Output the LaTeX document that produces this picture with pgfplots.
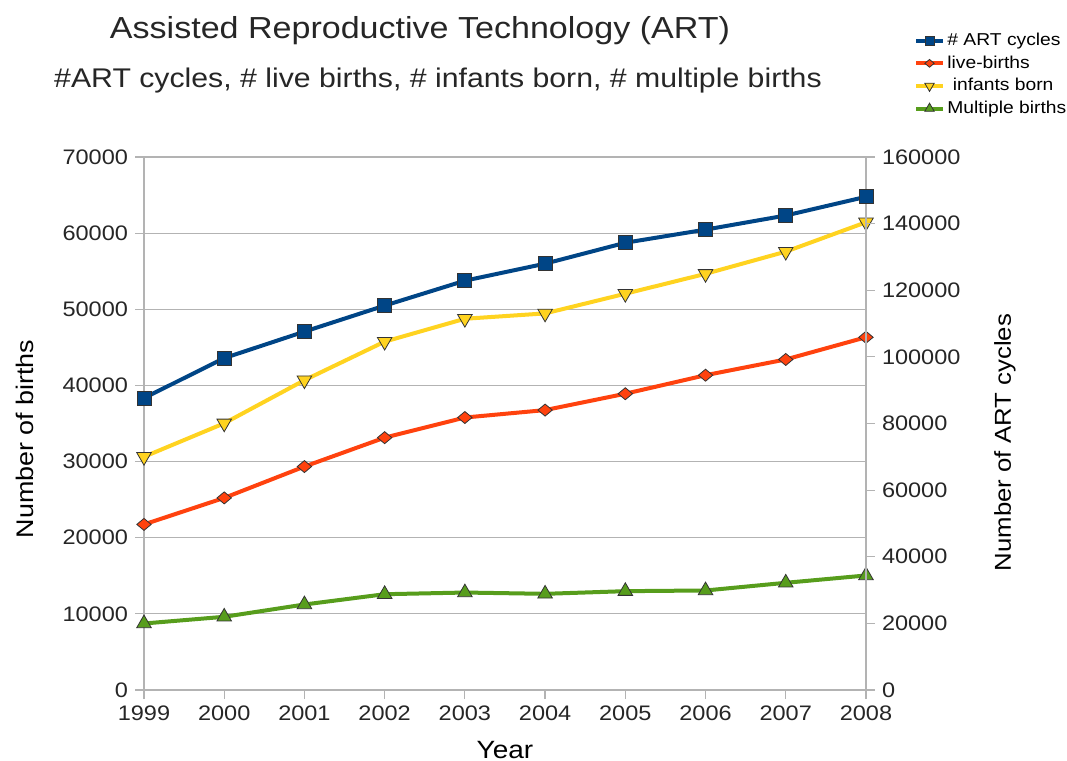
\documentclass[border=0pt]{standalone}
\usepackage{pgfplots}
\pgfplotsset{compat=1.18}
\usepackage{fontspec}
\setmainfont[FakeStretch=1.12]{Liberation Sans}
\definecolor{cblue}{HTML}{004586}
\definecolor{corange}{HTML}{FF420E}
\definecolor{cyellow}{HTML}{FFD320}
\definecolor{cgreen}{HTML}{579D1C}
\definecolor{cgrid}{HTML}{B3B3B3}
\pgfplotsset{
  myaxis/.style={
    scale only axis, width=361bp, height=266.5bp,
    at={(0,0)}, anchor=south west,
    xmin=1999, xmax=2008,
    /pgf/number format/fixed,
    /pgf/number format/precision=0,
    /pgf/number format/assume math mode=true,
    /pgf/number format/1000 sep={},
    tick label style={font=\fontsize{10.5bp}{12bp}\selectfont, text=black!85},
    axis line style={draw=cgrid, line width=0.6bp},
    major tick style={draw=cgrid, line width=0.6bp},
    tick align=outside, major tick length=4.5bp,
    scaled ticks=false,
  },
  legend image code/.code={
    \draw[mark repeat=2,mark phase=2,#1, every mark/.append style={scale=0.65}]
      plot coordinates {(0bp,0bp) (6.75bp,0bp) (13.5bp,0bp)};},
}
\begin{document}
\begin{tikzpicture}
\useasboundingbox (-72bp,-35.5bp) rectangle (461.5bp,345bp);
\begin{axis}[myaxis,
  ymin=0, ymax=70000, ytick={0,10000,...,70000},
  xtick={1999,2000,...,2008},
  xtick pos=bottom, ytick pos=left,
  ymajorgrids, major grid style={draw=cgrid, line width=0.6bp},
  xlabel={Year}, ylabel={Number of births},
  every axis x label/.style={at={([yshift=-30bp]axis description cs:0.5,0)}, anchor=center, font=\fontsize{12.5bp}{15bp}\selectfont},
  every axis y label/.style={at={([xshift=-59.5bp,yshift=-7.75bp]axis description cs:0,0.5)}, rotate=90, anchor=center, font=\fontsize{12bp}{14bp}\selectfont},
]
\addplot[corange, line width=2bp, mark=diamond*, mark size=3bp,
  mark options={solid, draw=black!80, line width=0.4bp, fill=corange, xscale=1.6}]
  coordinates {(1999,21746) (2000,25228) (2001,29344) (2002,33141) (2003,35785)
               (2004,36760) (2005,38910) (2006,41343) (2007,43412) (2008,46326)};
\addplot[cyellow, line width=2bp, mark=triangle*, mark size=4.2bp,
  mark options={solid, draw=black!80, line width=0.4bp, fill=cyellow, rotate=180}]
  coordinates {(1999,30629) (2000,35025) (2001,40687) (2002,45751) (2003,48756)
               (2004,49458) (2005,52041) (2006,54656) (2007,57569) (2008,61426)};
\addplot[cgreen, line width=2bp, mark=triangle*, mark size=4.2bp,
  mark options={solid, draw=black!80, line width=0.4bp, fill=cgreen}]
  coordinates {(1999,8734) (2000,9614) (2001,11230) (2002,12580) (2003,12800)
               (2004,12630) (2005,12980) (2006,13070) (2007,14080) (2008,15040)};
\end{axis}
\begin{axis}[myaxis,
  axis x line=none, axis y line*=right,
  ymin=0, ymax=160000, ytick={0,20000,...,160000},
  ylabel={Number of ART cycles},
  every axis y label/.style={at={([xshift=69.5bp,yshift=-9.5bp]axis description cs:1,0.5)}, rotate=90, anchor=center, font=\fontsize{11.5bp}{14bp}\selectfont},
  legend style={at={(axis description cs:1.066,1.238)}, anchor=north west,
    draw=none, fill=none, font=\fontsize{8.6bp}{10.5bp}\selectfont,
    row sep=1.2bp, inner sep=0pt,
    nodes={inner sep=1.2bp}},
  legend cell align=left,
]
\addplot[cblue, line width=2bp, mark=square*, mark size=3.5bp,
  mark options={solid, draw=black!80, line width=0.4bp, fill=cblue}]
  coordinates {(1999,87636) (2000,99629) (2001,107587) (2002,115392) (2003,122872)
               (2004,127977) (2005,134260) (2006,138198) (2007,142435) (2008,148055)};
\addlegendentry{\# ART cycles}
\addlegendimage{corange, line width=2bp, mark=diamond*, mark size=3bp,
  mark options={solid, draw=black!80, line width=0.4bp, fill=corange, xscale=1.6}}
\addlegendentry{live-births}
\addlegendimage{cyellow, line width=2bp, mark=triangle*, mark size=4.2bp,
  mark options={solid, draw=black!80, line width=0.4bp, fill=cyellow, rotate=180}}
\addlegendentry{\ infants born}
\addlegendimage{cgreen, line width=2bp, mark=triangle*, mark size=4.2bp,
  mark options={solid, draw=black!80, line width=0.4bp, fill=cgreen}}
\addlegendentry{Multiple births}
\end{axis}
\node[font=\fontsize{15.2bp}{18bp}\selectfont, text=black!85] at (138bp,329.5bp) {Assisted Reproductive Technology (ART)};
\node[font=\fontsize{13.5bp}{16bp}\selectfont, text=black!85] at (147bp,304.5bp) {\#ART cycles, \# live births, \# infants born, \# multiple births};
\end{tikzpicture}
\end{document}
